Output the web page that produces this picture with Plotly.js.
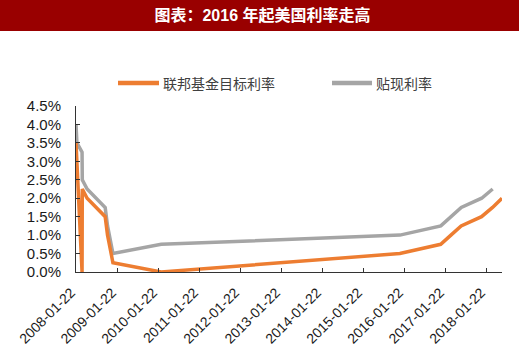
<!DOCTYPE html>
<html>
<head>
<meta charset="utf-8">
<script src="https://cdn.plot.ly/plotly-3.0.1.min.js"></script>
<style>html,body{margin:0;padding:0;background:#fff;}#chart{width:520px;height:359px;}</style>
</head>
<body>
<div id="chart"></div>
<script>
// Fed funds target rate (upper bound), %
const fedDates = ['2008-01-22','2008-01-30','2008-03-16','2008-03-18','2008-04-30','2008-10-08','2008-10-29','2008-12-16','2010-02-19','2015-12-16','2016-12-14','2017-03-15','2017-06-14','2017-12-13','2018-03-21','2018-06-13'];
const fedRate = [3.5, 3.0, 0, 2.25, 2.0, 1.5, 1.0, 0.25, 0, 0.5, 0.75, 1.0, 1.25, 1.5, 1.75, 2.0];
// Discount rate, %
const discDates = ['2008-01-22','2008-01-30','2008-03-16','2008-03-18','2008-04-30','2008-10-08','2008-10-29','2008-12-16','2010-02-19','2015-12-17','2016-12-15','2017-03-16','2017-06-15','2017-12-14','2018-03-22'];
const discRate = [4.0, 3.5, 3.25, 2.5, 2.25, 1.75, 1.25, 0.5, 0.75, 1.0, 1.25, 1.5, 1.75, 2.0, 2.25];

const seriesNames = ['联邦基金目标利率', '贴现利率'];
const seriesColors = ['#ED7D31', '#A5A5A5'];
const titleText = '图表：2016 年起美国利率走高';

const W = 520, H = 359;
const M = {l: 76, r: 18, t: 106, b: 87};
const pw = W - M.l - M.r, ph = H - M.t - M.b;
const px = v => (v - M.l) / pw;
const py = v => (H - M.b - v) / ph;

const traces = [
  {x: discDates, y: discRate, name: seriesNames[1], type: 'scatter', mode: 'lines',
   line: {color: seriesColors[1], width: 3.5}},
  {x: fedDates, y: fedRate, name: seriesNames[0], type: 'scatter', mode: 'lines',
   line: {color: seriesColors[0], width: 3.5}}
];

// legend (shapes + annotations for exact placement)
const legendItems = [
  {x0: 118, x1: 159, tx: 160.5, y: 83},
  {x0: 332, x1: 372, tx: 374, y: 83}
];
const legendShapes = legendItems.map((it, i) => ({
  type: 'line', xref: 'paper', yref: 'paper', x0: px(it.x0), x1: px(it.x1), y0: py(it.y), y1: py(it.y),
  line: {color: seriesColors[i], width: 4.5}
}));
const legendAnn = legendItems.map((it, i) => ({
  xref: 'paper', yref: 'paper', x: px(it.tx), y: py(it.y), xanchor: 'left', yanchor: 'middle',
  text: seriesNames[i], showarrow: false,
  font: {family: 'Noto Sans CJK SC, sans-serif', size: 14, color: '#404040'}
}));

const layout = {
  width: W, height: H,
  margin: M,
  paper_bgcolor: '#fff', plot_bgcolor: '#fff',
  font: {family: 'Liberation Sans, Arial, sans-serif', color: '#1a1a1a'},
  title: {text: '<b>' + titleText + '</b>', x: 262.5 / W, xanchor: 'center', y: 1 - 15 / H, yanchor: 'middle',
          font: {family: 'Liberation Sans, Noto Sans CJK SC, sans-serif', size: 16, color: '#fff'}},
  shapes: [
    {type: 'rect', xref: 'paper', yref: 'paper', x0: px(0), x1: px(519), y0: py(31), y1: py(0),
     fillcolor: '#990000', line: {width: 0}, layer: 'below'}
  ].concat(legendShapes),
  annotations: legendAnn,
  showlegend: false,
  xaxis: {type: 'date', range: ['2008-01-22', '2018-06-13'], tick0: '2008-01-22', dtick: 'M12',
          tickformat: '%Y-%m-%d', tickangle: -45, ticks: 'inside', ticklen: 4, tickcolor: '#333',
          showline: true, linecolor: '#333', linewidth: 1, showgrid: false, zeroline: false,
          tickfont: {size: 14, color: '#1a1a1a'}, ticklabelstandoff: 6, ticklabelshift: -5},
  yaxis: {range: [0, 4.5], dtick: 0.5, tick0: 0, tickformat: '.1f', ticksuffix: '%',
          ticks: 'inside', ticklen: 4, tickcolor: '#333',
          showline: true, linecolor: '#333', linewidth: 1, showgrid: false, zeroline: false,
          tickfont: {size: 15, color: '#1a1a1a'}, ticklabelstandoff: 11}
};

Plotly.newPlot('chart', traces, layout, {displayModeBar: false, staticPlot: true});
</script>
</body>
</html>
